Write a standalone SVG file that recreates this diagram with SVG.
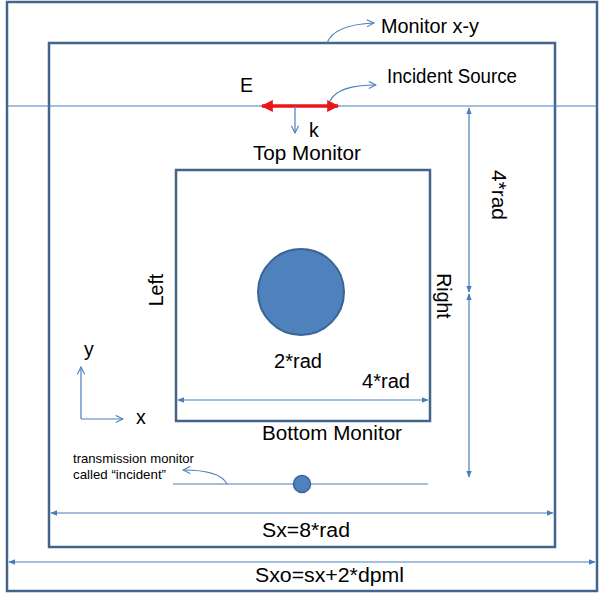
<svg xmlns="http://www.w3.org/2000/svg" width="603" height="600" viewBox="0 0 603 600">
<style>
.box{fill:none;stroke:#44648C;stroke-width:2.5}
.thin{fill:none;stroke:#4A7EBB;stroke-width:1.2}
.dim{fill:none;stroke:#4A7EBB;stroke-width:1.2;marker-start:url(#tri);marker-end:url(#tri)}
.t{font-family:"Liberation Sans",Arial,sans-serif;font-size:19.5px;fill:#000}
.s{font-family:"Liberation Sans",Arial,sans-serif;font-size:13px;fill:#000}
</style>
<defs>
<marker id="tri" viewBox="0 0 10 10" refX="9" refY="5" markerWidth="7" markerHeight="7" orient="auto-start-reverse" markerUnits="userSpaceOnUse">
<path d="M0,1 L10,5 L0,9 z" fill="#4A7EBB"/>
</marker>
<marker id="open" viewBox="0 0 10 10" refX="9" refY="5" markerWidth="9" markerHeight="9" orient="auto" markerUnits="userSpaceOnUse">
<path d="M1,1 L9,5 L1,9" fill="none" stroke="#4A7EBB" stroke-width="1.2"/>
</marker>
<marker id="red" viewBox="0 0 10 10" refX="9" refY="5" markerWidth="14" markerHeight="12" orient="auto-start-reverse" markerUnits="userSpaceOnUse">
<path d="M0,0 L10,5 L0,10 z" fill="#E8171A"/>
</marker>
</defs>
<rect width="603" height="600" fill="#fff"/>
<g id="outer"><rect class="box" x="7" y="2" width="590" height="589"/></g>
<g id="monitor-xy"><rect class="box" x="49" y="43" width="506" height="504"/>
<text class="t" x="381" y="33" textLength="98" lengthAdjust="spacingAndGlyphs">Monitor x-y</text></g>
<g id="source"><line class="thin" x1="7" y1="106" x2="597" y2="106"/>
<text class="t" x="387" y="83" textLength="130" lengthAdjust="spacingAndGlyphs">Incident Source</text>
<text class="t" x="240" y="92">E</text>
<text class="t" x="309" y="137">k</text></g>
<g id="box"><rect class="box" x="176" y="170" width="254" height="251"/>
<text class="t" x="253" y="160" textLength="108" lengthAdjust="spacingAndGlyphs">Top Monitor</text>
<text class="t" x="262" y="440" textLength="140" lengthAdjust="spacingAndGlyphs">Bottom Monitor</text>
<text class="t" transform="translate(163,290) rotate(-90)" text-anchor="middle">Left</text>
<text class="t" transform="translate(437,296) rotate(90)" text-anchor="middle">Right</text></g>
<g id="sphere"><circle cx="301" cy="292" r="43" fill="#4F81BD" stroke="#3A6496" stroke-width="2"/>
<text class="t" x="274" y="368" textLength="48" lengthAdjust="spacingAndGlyphs">2*rad</text>
<text class="t" x="362" y="388" textLength="48" lengthAdjust="spacingAndGlyphs">4*rad</text></g>
<g id="incident-monitor"><line class="thin" x1="173" y1="484" x2="428" y2="484"/>
<circle cx="302" cy="484" r="8.5" fill="#4F81BD" stroke="#3A6496" stroke-width="1.5"/>
<text class="s" x="73" y="463" textLength="121" lengthAdjust="spacingAndGlyphs">transmission monitor</text>
<text class="s" x="73" y="479" textLength="93" lengthAdjust="spacingAndGlyphs">called “incident”</text></g>
<g id="axes"><text class="t" x="84" y="356">y</text><text class="t" x="136" y="424">x</text></g>
<g id="dims">
<text class="t" transform="translate(492,170) rotate(90)" textLength="50" lengthAdjust="spacingAndGlyphs">4*rad</text>
<text class="t" x="262" y="537" textLength="88" lengthAdjust="spacingAndGlyphs">Sx=8*rad</text>
<text class="t" x="255" y="582" textLength="149" lengthAdjust="spacingAndGlyphs">Sxo=sx+2*dpml</text>
</g>
<g id="connectors">
<line x1="262" y1="106" x2="338" y2="106" stroke="#E8171A" stroke-width="3.5" marker-start="url(#red)" marker-end="url(#red)"/>
<line class="thin" x1="295" y1="106" x2="295" y2="133" marker-end="url(#open)"/>
<path class="thin" d="M330,101 C336,89 352,85 376,85" marker-end="url(#open)"/>
<path class="thin" d="M327,43 C332,30 350,24 374,23" marker-end="url(#open)"/>
<path class="thin" d="M227,484 C222,474 205,470 183,470" marker-end="url(#open)"/>
<line class="thin" x1="81" y1="419" x2="81" y2="367" marker-end="url(#open)"/>
<line class="thin" x1="81" y1="419" x2="123" y2="419" marker-end="url(#open)"/>
<line class="dim" x1="178" y1="400" x2="428" y2="400"/>
<line class="dim" x1="469" y1="108" x2="469" y2="292"/>
<line class="dim" x1="469" y1="294" x2="469" y2="477"/>
<line class="dim" x1="51" y1="513" x2="553" y2="513"/>
<line class="dim" x1="9" y1="562" x2="595" y2="562"/>
</g>
</svg>
